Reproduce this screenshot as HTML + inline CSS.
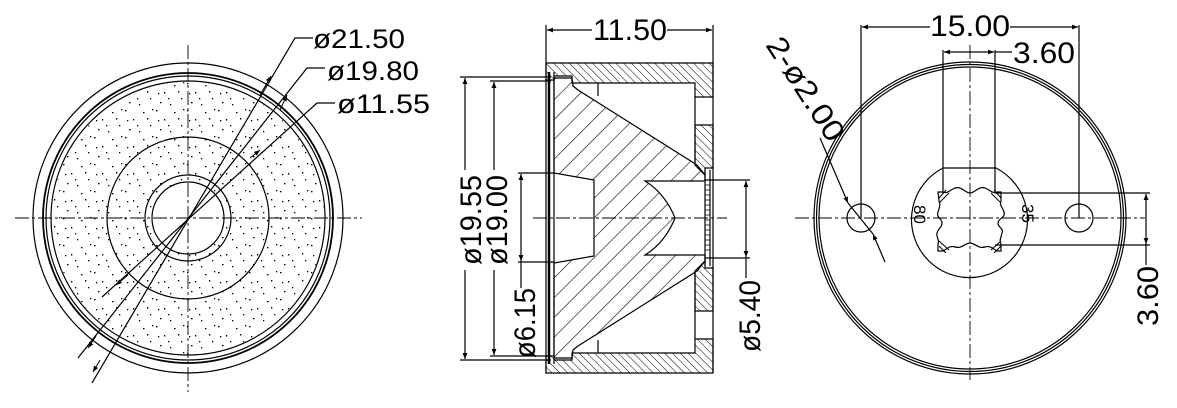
<!DOCTYPE html>
<html><head><meta charset="utf-8"><style>
html,body{margin:0;padding:0;background:#fff;}
svg{display:block;}
text{font-family:"Liberation Sans",sans-serif;fill:#000;}
</style></head><body>
<svg width="1177" height="408" viewBox="0 0 1177 408" xmlns="http://www.w3.org/2000/svg">
<defs>
<pattern id="dots" width="31" height="27" patternUnits="userSpaceOnUse">
<g fill="#000">
<rect x="1" y="2" width="1.5" height="1.3"/><rect x="9" y="11" width="1.3" height="1.5"/><rect x="19" y="4" width="1.5" height="1.3"/>
<rect x="26" y="17" width="1.3" height="1.3"/><rect x="5" y="21" width="1.5" height="1.3"/><rect x="15" y="23" width="1.3" height="1.3"/>
<rect x="23" y="10" width="1.3" height="1.5"/><rect x="3" y="12" width="1.3" height="1.3"/><rect x="13" y="17" width="1.3" height="1.3"/>
<rect x="28" y="1" width="1.3" height="1.3"/>
</g></pattern>
<pattern id="hl" width="14" height="14" patternUnits="userSpaceOnUse" patternTransform="rotate(45)">
<line x1="0" y1="0" x2="0" y2="14" stroke="#000" stroke-width="1.2"/></pattern>
<pattern id="hs" width="5.5" height="5.5" patternUnits="userSpaceOnUse" patternTransform="rotate(-45)">
<line x1="0" y1="0" x2="0" y2="5.5" stroke="#000" stroke-width="1"/></pattern>
<marker id="a" viewBox="0 0 10 10" refX="10" refY="5" markerWidth="12" markerHeight="6" markerUnits="userSpaceOnUse" orient="auto-start-reverse">
<path d="M0,1 L10,5 L0,9 z" fill="#000"/></marker>
</defs>
<g fill="none" stroke="#000" stroke-width="1.2">
<!-- LEFT VIEW -->
<path fill-rule="evenodd" fill="url(#dots)" stroke="none" d="M52,218a136,136 0 1,0 272,0a136,136 0 1,0 -272,0z M152,218a36,36 0 1,0 72,0a36,36 0 1,0 -72,0z"/>
<circle cx="188" cy="218" r="155"/>
<circle cx="188" cy="218" r="145" stroke-width="1.8"/>
<circle cx="188" cy="218" r="142"/>
<circle cx="188" cy="218" r="137"/>
<circle cx="188" cy="218" r="81"/>
<circle cx="188" cy="218" r="43"/>
<circle cx="188" cy="218" r="36"/>
<g stroke-dasharray="14,3,3,3" stroke-width="0.9">
<line x1="15" y1="218" x2="362" y2="218"/><line x1="188" y1="45" x2="188" y2="392"/>
</g>
<polyline points="313,38 295,38 92,383"/>
<polyline points="325,68 307,68 78,358"/>
<polyline points="335,103 317,103 102,297"/>
<g stroke-width="1">
<line x1="260" y1="95" x2="271" y2="76" marker-end="url(#a)"/>
<line x1="280" y1="110" x2="287" y2="95" marker-end="url(#a)"/>
<line x1="250" y1="158" x2="260" y2="150" marker-end="url(#a)"/>
<line x1="100" y1="360" x2="93" y2="372" marker-end="url(#a)"/>
<line x1="96" y1="336" x2="88" y2="348" marker-end="url(#a)"/>
<line x1="128" y1="275" x2="116" y2="285" marker-end="url(#a)"/>
</g>
<!-- MIDDLE VIEW -->
<path fill="url(#hs)" d="M546,63 H713 V97 H695 V83 H572 V76 H554 V80 H546 Z"/>
<path fill="url(#hs)" d="M546,373 H713 V339 H695 V353 H572 V360 H554 V356 H546 Z"/>
<path fill="url(#hs)" d="M695,125 H713 V168 H705 V175 L695,165 Z"/>
<path fill="url(#hs)" d="M695,311 H713 V268 H705 V261 L695,271 Z"/>
<line x1="546" y1="63" x2="546" y2="373"/>
<line x1="713" y1="63" x2="713" y2="373"/>
<path fill="url(#hl)" d="M554,78 H572 L573,86 L578,90 L697,165 L705,175 V181 H645 C660,190 670,205 675,218 C670,231 660,246 645,255 H705 V261 L697,271 L578,346 L573,350 L572,358 H554 V263 L594,256 V180 L554,173 Z"/>
<line x1="598" y1="83" x2="598" y2="96"/><line x1="598" y1="353" x2="598" y2="340"/>
<line x1="695" y1="97" x2="695" y2="165"/><line x1="695" y1="271" x2="695" y2="339"/>
<line x1="549" y1="72" x2="549" y2="364" stroke-width="2.5"/>
<line x1="554" y1="72" x2="554" y2="364"/>
<path d="M705,170 V266 M710,170 V266" />
<path stroke-width="0.8" d="M705,185 H710 M705,190 H710 M705,195 H710 M705,200 H710 M705,205 H710 M705,210 H710 M705,215 H710 M705,220 H710 M705,225 H710 M705,230 H710 M705,235 H710 M705,240 H710 M705,245 H710 M705,250 H710"/>
<line x1="533" y1="218" x2="727" y2="218" stroke-dasharray="14,3,3,3" stroke-width="0.9"/>
<!-- dims middle -->
<line x1="546" y1="25" x2="546" y2="63"/><line x1="713" y1="25" x2="713" y2="63"/>
<line x1="592" y1="30" x2="547" y2="30" marker-end="url(#a)"/>
<line x1="667" y1="30" x2="712" y2="30" marker-end="url(#a)"/>
<line x1="460" y1="77" x2="551" y2="77"/><line x1="460" y1="360" x2="551" y2="360"/>
<line x1="465" y1="170" x2="465" y2="78" marker-end="url(#a)"/>
<line x1="465" y1="270" x2="465" y2="359" marker-end="url(#a)"/>
<line x1="490" y1="81" x2="551" y2="81"/><line x1="490" y1="356" x2="551" y2="356"/>
<line x1="494" y1="170" x2="494" y2="82" marker-end="url(#a)"/>
<line x1="494" y1="270" x2="494" y2="355" marker-end="url(#a)"/>
<line x1="518" y1="173" x2="554" y2="173"/><line x1="518" y1="262" x2="554" y2="262"/>
<line x1="521" y1="218" x2="521" y2="174" marker-end="url(#a)"/>
<line x1="521" y1="218" x2="521" y2="261" marker-end="url(#a)"/>
<line x1="521" y1="261" x2="521" y2="288"/>
<line x1="705" y1="180" x2="750" y2="180"/><line x1="705" y1="258" x2="750" y2="258"/>
<line x1="746" y1="218" x2="746" y2="181" marker-end="url(#a)"/>
<line x1="746" y1="218" x2="746" y2="257" marker-end="url(#a)"/>
<line x1="746" y1="257" x2="746" y2="278"/>
<!-- RIGHT VIEW -->
<circle cx="970" cy="218" r="156"/>
<circle cx="970" cy="218" r="153.5"/>
<circle cx="970" cy="218" r="151"/>
<path d="M943,168 H996 A58,58 0 1,1 943,168 Z"/>
<circle cx="861" cy="218" r="14"/>
<circle cx="1079" cy="218" r="14"/>
<path d="M938,192 H943 C947,194 950,190 955,188 C962,186 965,193 970,193 C975,193 978,186 985,188 C990,190 993,194 997,192 H1001 V201 C999,205 1003,208 1004,212 C1006,218 998,218 998,223 C998,228 1004,228 1002,233 C1001,238 999,240 1001,244 V251 H997 C993,249 990,245 985,247 C978,249 975,243 970,243 C965,243 962,249 955,247 C950,245 947,249 943,251 H938 V244 C940,240 936,238 937,233 C938,228 942,228 942,223 C942,218 936,218 938,212 C939,208 941,205 939,201 Z"/>
<path stroke-width="1" d="M939,198 L946,190 M939,203 L949,193 M939,246 L946,253 M939,241 L949,250 M1001,198 L994,190 M1001,203 L991,193 M1001,246 L994,253 M1001,241 L991,250"/>
<g stroke-dasharray="14,3,3,3" stroke-width="0.9">
<line x1="795" y1="218" x2="1145" y2="218"/><line x1="970" y1="45" x2="970" y2="380"/>
</g>
<line x1="861" y1="25" x2="861" y2="218"/><line x1="1079" y1="25" x2="1079" y2="218"/>
<line x1="930" y1="27" x2="862" y2="27" marker-end="url(#a)"/>
<line x1="1010" y1="27" x2="1078" y2="27" marker-end="url(#a)"/>
<line x1="943" y1="50" x2="943" y2="193"/><line x1="995" y1="50" x2="995" y2="193"/>
<line x1="970" y1="52" x2="944" y2="52" marker-end="url(#a)"/>
<line x1="970" y1="52" x2="994" y2="52" marker-end="url(#a)"/>
<line x1="995" y1="52" x2="1012" y2="52"/>
<line x1="995" y1="193" x2="1150" y2="193"/><line x1="995" y1="245" x2="1150" y2="245"/>
<line x1="1146" y1="218" x2="1146" y2="194" marker-end="url(#a)"/>
<line x1="1146" y1="218" x2="1146" y2="244" marker-end="url(#a)"/>
<line x1="1146" y1="244" x2="1146" y2="265"/>
<line x1="820" y1="138" x2="848" y2="203" marker-end="url(#a)"/>
<line x1="885" y1="262" x2="873" y2="234" marker-end="url(#a)"/>
<line x1="848" y1="203" x2="873" y2="234"/>
</g>
<!-- TEXT -->
<g font-size="27">
<text x="313" y="48" textLength="92" lengthAdjust="spacingAndGlyphs">ø21.50</text>
<text x="327" y="80" textLength="92" lengthAdjust="spacingAndGlyphs">ø19.80</text>
<text x="337" y="113" textLength="93" lengthAdjust="spacingAndGlyphs">ø11.55</text>
</g>
<g font-size="30">
<text x="593" y="40" textLength="74" lengthAdjust="spacingAndGlyphs">11.50</text>
<text x="930" y="36" textLength="80" lengthAdjust="spacingAndGlyphs">15.00</text>
<text x="1013" y="63" textLength="62" lengthAdjust="spacingAndGlyphs">3.60</text>
<text transform="translate(481,265) rotate(-90)" textLength="90" lengthAdjust="spacingAndGlyphs">ø19.55</text>
<text transform="translate(507,265) rotate(-90)" textLength="90" lengthAdjust="spacingAndGlyphs">ø19.00</text>
<text transform="translate(535,358) rotate(-90)" textLength="70" lengthAdjust="spacingAndGlyphs">ø6.15</text>
<text transform="translate(760,352) rotate(-90)" textLength="72" lengthAdjust="spacingAndGlyphs">ø5.40</text>
<text transform="translate(1158,326) rotate(-90)" textLength="60" lengthAdjust="spacingAndGlyphs">3.60</text>
<text transform="translate(765,45) rotate(57)" textLength="118" lengthAdjust="spacingAndGlyphs">2-ø2.00</text>
</g>
<g font-size="17">
<text transform="translate(914,205) rotate(90)">80</text>
<text transform="translate(1022,204) rotate(90)">35</text>
</g>
</svg>
</body></html>
